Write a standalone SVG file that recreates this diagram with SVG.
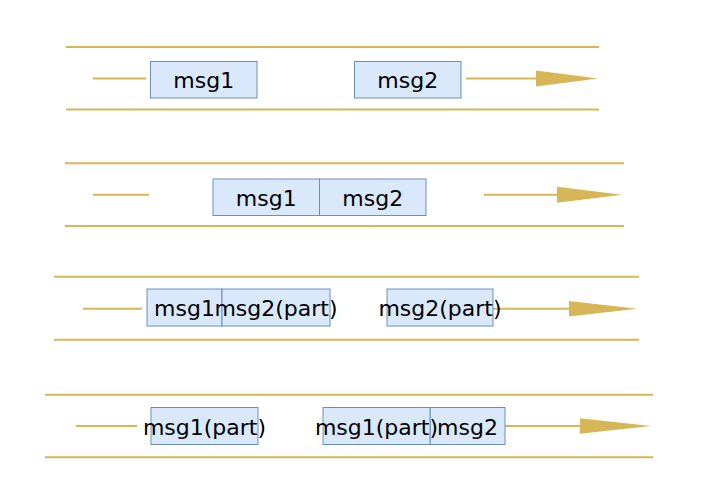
<svg xmlns="http://www.w3.org/2000/svg" width="715" height="496" viewBox="0 0 715 496">
<style>
.ln{stroke:#d6b656;stroke-width:2;fill:none}
.hd{fill:#d6b656;stroke:none}
.bx{fill:#dae8fc;stroke:#6c8ebf;stroke-width:1}
.tx{font-family:"DejaVu Sans",sans-serif;font-size:22px;fill:#000;text-anchor:middle}
</style>
<rect width="715" height="496" fill="#fff"/>
<g id="connectors">
  <line class="ln" x1="66" y1="47" x2="599" y2="47"/>
  <line class="ln" x1="66" y1="109.5" x2="599" y2="109.5"/>
  <line class="ln" x1="93" y1="78.5" x2="146" y2="78.5"/>
  <line class="ln" x1="466" y1="78.5" x2="540" y2="78.5"/>
  <polygon class="hd" points="536,70.5 598,78.5 536,86.5"/>
  <line class="ln" x1="65" y1="163.3" x2="624" y2="163.3"/>
  <line class="ln" x1="65" y1="226" x2="624" y2="226"/>
  <line class="ln" x1="93" y1="194.7" x2="149" y2="194.7"/>
  <line class="ln" x1="484" y1="194.7" x2="560" y2="194.7"/>
  <polygon class="hd" points="557,186.7 622,194.7 557,202.7"/>
  <line class="ln" x1="54" y1="276.7" x2="639" y2="276.7"/>
  <line class="ln" x1="54" y1="339.7" x2="639" y2="339.7"/>
  <line class="ln" x1="83" y1="308.7" x2="142" y2="308.7"/>
  <line class="ln" x1="493" y1="308.7" x2="572" y2="308.7"/>
  <polygon class="hd" points="569,301 637,308.7 569,316.4"/>
  <line class="ln" x1="45" y1="394.7" x2="653" y2="394.7"/>
  <line class="ln" x1="45" y1="457.3" x2="653" y2="457.3"/>
  <line class="ln" x1="76" y1="426" x2="137" y2="426"/>
  <line class="ln" x1="502" y1="426" x2="583" y2="426"/>
  <polygon class="hd" points="580,418.3 651,426 580,433.7"/>
</g>
<g id="r1-msg1"><rect class="bx" x="150.5" y="61.5" width="106.5" height="36.5"/><text class="tx" x="203.8" y="88">msg1</text></g>
<g id="r1-msg2"><rect class="bx" x="354.5" y="61.5" width="106.5" height="36.5"/><text class="tx" x="407.8" y="88">msg2</text></g>
<g id="r2-msg1"><rect class="bx" x="213" y="179" width="106.5" height="36.5"/><text class="tx" x="266.3" y="205.5">msg1</text></g>
<g id="r2-msg2"><rect class="bx" x="319.5" y="179" width="106.5" height="36.5"/><text class="tx" x="372.8" y="205.5">msg2</text></g>
<g id="r3-msg1"><rect class="bx" x="147" y="289" width="75" height="37"/><text class="tx" x="184.5" y="316">msg1</text></g>
<g id="r3-msg2part"><rect class="bx" x="222" y="289" width="108" height="37"/><text class="tx" x="276" y="316">msg2(part)</text></g>
<g id="r3-msg2part-b"><rect class="bx" x="387" y="289" width="106" height="37"/><text class="tx" x="440" y="316">msg2(part)</text></g>
<g id="r4-msg1part"><rect class="bx" x="151" y="407.5" width="107" height="37"/><text class="tx" x="204.5" y="434.5">msg1(part)</text></g>
<g id="r4-msg2"><rect class="bx" x="430" y="407.5" width="75" height="37"/><text class="tx" x="467.5" y="434.5">msg2</text></g>
<g id="r4-msg1part-b"><rect class="bx" x="323" y="407.5" width="107" height="37"/><text class="tx" x="376.5" y="434.5">msg1(part)</text></g>
</svg>
